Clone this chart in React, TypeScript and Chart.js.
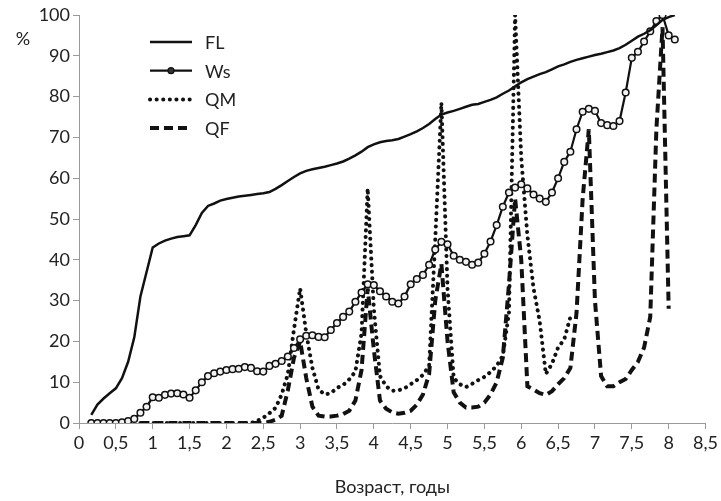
import React, { useEffect, useRef } from 'react';
import { Chart, registerables } from 'chart.js';

Chart.register(...registerables);

// Age in months (plotted in years)
const months = [
  2, 3, 4, 5, 6, 7, 8, 9, 10, 11, 12,
  13, 14, 15, 16, 17, 18, 19, 20, 21, 22, 23, 24,
  25, 26, 27, 28, 29, 30, 31, 32, 33, 34, 35, 36,
  37, 38, 39, 40, 41, 42, 43, 44, 45, 46, 47, 48,
  49, 50, 51, 52, 53, 54, 55, 56, 57, 58, 59, 60,
  61, 62, 63, 64, 65, 66, 67, 68, 69, 70, 71, 72,
  73, 74, 75, 76, 77, 78, 79, 80, 81, 82, 83, 84,
  85, 86, 87, 88, 89, 90, 91, 92, 93, 94, 95, 96,
  97,
];

const flValues = [
  2, 4.5, 6, 7.3, 8.5, 11, 15, 21, 31, 37, 43,
  44, 44.7, 45.2, 45.6, 45.8, 46, 48.5, 51.5, 53.2, 53.8, 54.5, 54.9,
  55.2, 55.5, 55.7, 55.9, 56.1, 56.3, 56.6, 57.4, 58.3, 59.3, 60.3, 61.2,
  61.8, 62.2, 62.5, 62.8, 63.2, 63.6, 64.1, 64.8, 65.6, 66.5, 67.6, 68.3,
  68.8, 69.1, 69.3, 69.6, 70.2, 70.8, 71.5, 72.3, 73.3, 74.5, 75.6, 76.1,
  76.5, 77, 77.5, 78, 78.2, 78.7, 79.2, 79.8, 80.7, 81.5, 82.5, 83.5,
  84.3, 84.9, 85.5, 86, 86.7, 87.4, 87.9, 88.5, 89, 89.4, 89.8, 90.2,
  90.5, 90.9, 91.3, 91.9, 92.7, 93.7, 94.7, 95.4, 96.3, 97.5, 98.8, 99.5,
  100,
];

const wsValues = [
  0, 0, 0, 0, 0, 0.2, 0.5, 1, 2.5, 4, 6.3,
  6.2, 6.9, 7.2, 7.3, 7, 6.2, 8, 10, 11.5, 12.2, 12.6, 13,
  13.2, 13.3, 13.7, 13.5, 12.7, 12.6, 14, 14.5, 15.2, 16.3, 18.4, 20.5,
  21.4, 21.5, 21.1, 21, 22.8, 24.5, 26, 27.3, 29.7, 32, 34, 33.8,
  32.3, 31, 29.7, 29.3, 31, 34, 35.3, 36.3, 38.8, 42.5, 44.4, 43.8,
  41, 40, 39.5, 38.8, 39.3, 41.5, 44.5, 48.5, 53, 56.5, 57.7, 58.5,
  57.5, 56, 55, 54.2, 56.5, 60, 64, 66.5, 72, 76.3, 77, 76.5,
  73.5, 73, 72.8, 74, 81, 89.5, 91, 93.5, 96, 98.5, 100, 95,
  94,
];

const qmValues = [
  null, null, null, null, null, null, null, null, 0, 0, 0,
  0, 0, 0, 0, 0, 0, 0, 0, 0, 0, 0, 0,
  0, 0, 0, 0, 0.5, 1.3, 2.4, 3.7, 7, 12, 23, 33,
  22, 13.5, 8.2, 7, 7.3, 8.6, 9.3, 10.7, 12.6, 22, 57.5, 28,
  11.5, 9, 7.9, 8, 8.5, 9.5, 10.5, 11.8, 14, 45, 78.5, 33,
  11, 9.5, 8.8, 9.6, 10.5, 11.3, 12.5, 14, 16.5, 27, 100, 65,
  46, 33, 25, 12, 14.5, 18.5, 20.5, 26, null, null, null, null,
  null, null, null, null, null, null, null, null, null, null, null, null,
  null,
];

const qfValues = [
  null, null, null, null, null, null, null, null, 0, 0, 0,
  0, 0, 0, 0, 0, 0, 0, 0, 0, 0, 0, 0,
  0, 0, 0, 0, 0, 0, 0.3, 0.8, 1.8, 8, 16, 20,
  11, 4, 1.8, 1.6, 1.6, 1.8, 2.2, 3, 5.5, 13, 33, 18,
  5.5, 3.5, 2.6, 2.3, 2.5, 3, 4.5, 7, 12, 30, 39, 20,
  7.5, 5, 3.8, 3.8, 4, 5, 7, 10, 16, 34, 55, 40,
  9, 8.2, 7.3, 6.9, 7.8, 9.5, 11, 13.5, 27, 55, 72, 30,
  11.5, 9, 9, 10, 10.8, 13, 15, 18.5, 26, 72, 97, 28,
  null,
];

const seriesNames = ['FL', 'Ws', 'QM', 'QF'];
const xTickLabels = ['0', '0,5', '1', '1,5', '2', '2,5', '3', '3,5', '4', '4,5', '5', '5,5', '6', '6,5', '7', '7,5', '8', '8,5'];
const yTickLabels = ['0', '10', '20', '30', '40', '50', '60', '70', '80', '90', '100'];
const yUnit = '%';
const xTitle = 'Возраст, годы';

const FONT = 'Lato';
const TEXT = '#222';
const AXIS = '#9a9a9a';

export default function App() {
  const ref = useRef<HTMLCanvasElement>(null);

  useEffect(() => {
    document.body.style.margin = '0';
    const canvas = ref.current;
    if (!canvas) return;

    const toPts = (vals: (number | null)[]) => months.map((m, i) => ({ x: m / 12, y: vals[i] }));

    const legendPlugin = {
      id: 'inlineLegend',
      afterDraw(chart: any) {
        const ctx = chart.ctx as CanvasRenderingContext2D;
        ctx.save();
        chart.data.datasets.forEach((ds: any, i: number) => {
          const y = 42 + i * 28.7;
          const x0 = 150;
          const x1 = 192;
          ctx.beginPath();
          ctx.lineWidth = ds.borderWidth;
          ctx.strokeStyle = ds.borderColor;
          ctx.setLineDash(ds.borderDash || []);
          ctx.lineCap = ds.borderCapStyle || 'butt';
          ctx.moveTo(x0, y);
          ctx.lineTo(x1, y);
          ctx.stroke();
          ctx.setLineDash([]);
          if (ds.pointRadius > 0) {
            ctx.beginPath();
            ctx.arc((x0 + x1) / 2, y, 3, 0, Math.PI * 2);
            ctx.fillStyle = '#333';
            ctx.fill();
            ctx.lineWidth = 1.2;
            ctx.strokeStyle = '#111';
            ctx.stroke();
          }
          ctx.fillStyle = TEXT;
          ctx.font = `18px ${FONT}`;
          ctx.textBaseline = 'middle';
          ctx.textAlign = 'left';
          ctx.fillText(ds.label, 205, y + 1);
        });
        ctx.font = `18px ${FONT}`;
        ctx.fillStyle = TEXT;
        ctx.textAlign = 'center';
        ctx.textBaseline = 'middle';
        ctx.fillText(yUnit, 23, 39);
        ctx.restore();
      },
    };

    const chart = new Chart(canvas, {
      type: 'line',
      data: {
        datasets: [
          {
            label: seriesNames[0],
            data: toPts(flValues),
            borderColor: '#111',
            borderWidth: 2.5,
            pointRadius: 0,
            tension: 0,
          },
          {
            label: seriesNames[1],
            data: toPts(wsValues),
            borderColor: '#111',
            borderWidth: 2.2,
            pointRadius: 3.3,
            pointBorderWidth: 1.5,
            pointBorderColor: '#111',
            pointBackgroundColor: '#f2f2f2',
            tension: 0,
          },
          {
            label: seriesNames[2],
            data: toPts(qmValues),
            borderColor: '#111',
            borderWidth: 4,
            borderDash: [0.1, 6.5],
            borderCapStyle: 'round',
            pointRadius: 0,
            tension: 0,
            spanGaps: false,
          },
          {
            label: seriesNames[3],
            data: toPts(qfValues),
            borderColor: '#111',
            borderWidth: 4,
            borderDash: [9, 5],
            borderCapStyle: 'butt',
            pointRadius: 0,
            tension: 0,
            spanGaps: false,
          },
        ] as any,
      },
      options: {
        animation: false,
        responsive: false,
        devicePixelRatio: 1,
        layout: { padding: { top: 15, right: 13, left: 0, bottom: 0 } },
        plugins: {
          legend: { display: false },
          tooltip: { enabled: false },
        },
        scales: {
          x: {
            type: 'linear',
            min: 0,
            max: 8.5,
            ticks: {
              stepSize: 0.5,
              autoSkip: false,
              maxRotation: 0,
              color: TEXT,
              padding: 3,
              font: { family: FONT, size: 18 },
              callback: (_v: any, i: number) => xTickLabels[i],
            },
            grid: { display: true, drawOnChartArea: false, drawTicks: true, tickLength: 6, color: AXIS, lineWidth: 1 },
            border: { display: true, color: AXIS, width: 1 },
            title: {
              display: true,
              text: xTitle,
              color: TEXT,
              font: { family: FONT, size: 18 },
              padding: { top: 4, bottom: 3 },
            },
            afterFit: (s: any) => {
              s.height = 78;
            },
          },
          y: {
            type: 'linear',
            min: 0,
            max: 100,
            ticks: {
              stepSize: 10,
              color: TEXT,
              padding: 3,
              font: { family: FONT, size: 18 },
              callback: (_v: any, i: number) => yTickLabels[i],
            },
            grid: { display: true, drawOnChartArea: false, drawTicks: true, tickLength: 6, color: AXIS, lineWidth: 1 },
            border: { display: true, color: AXIS, width: 1 },
            afterFit: (s: any) => {
              s.width = 79;
            },
          },
        },
      } as any,
      plugins: [legendPlugin],
    });

    return () => chart.destroy();
  }, []);

  return <canvas ref={ref} width={721} height={501} style={{ display: 'block' }} />;
}
